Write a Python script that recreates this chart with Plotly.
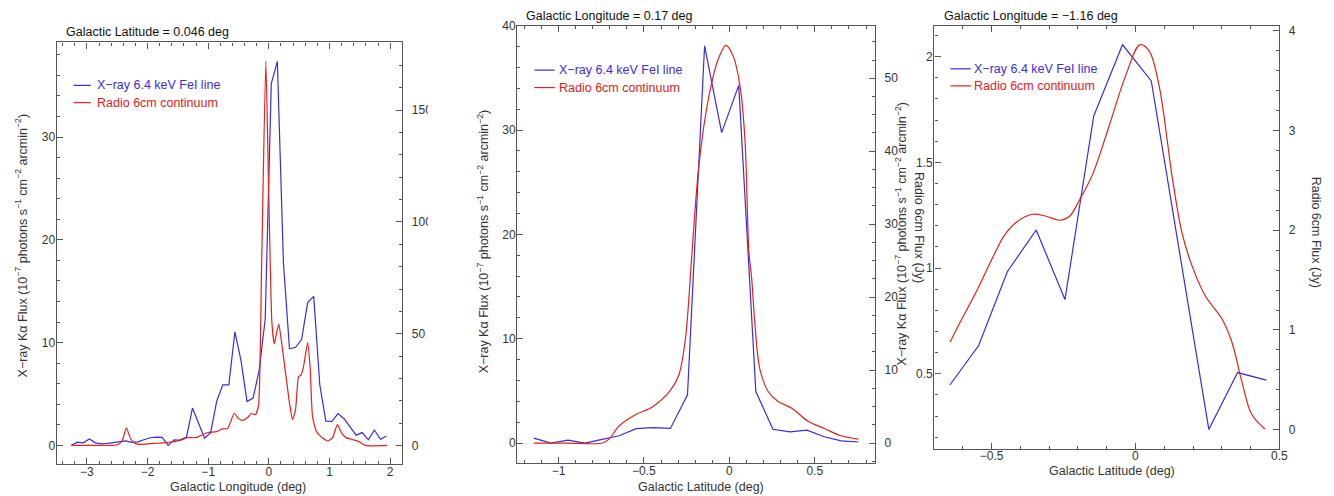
import plotly.graph_objects as go

W, H = 1334, 496

# ---------------- data ----------------
# Panel 1: cut along Galactic longitude (b = 0.046 deg)
p1_xray_l = [-3.26, -3.16, -3.06, -2.96, -2.86, -2.76, -2.66, -2.56, -2.46, -2.36,
             -2.26, -2.16, -2.06, -1.96, -1.86, -1.76, -1.66, -1.56, -1.46, -1.36,
             -1.26, -1.16, -1.06, -0.96, -0.86, -0.76, -0.66, -0.56, -0.46, -0.36,
             -0.26, -0.16, -0.06, 0.04, 0.14, 0.24, 0.34, 0.44, 0.54, 0.64,
             0.74, 0.84, 0.94, 1.04, 1.14, 1.24, 1.34, 1.44, 1.54, 1.64,
             1.74, 1.84, 1.94]
p1_xray = [0.0, 0.32, 0.25, 0.62, 0.25, 0.15, 0.2, 0.3, 0.38, 0.45,
           0.3, 0.35, 0.55, 0.75, 0.8, 0.78, 0.0, 0.55, 0.5, 0.75,
           3.64, 2.17, 0.7, 1.25, 4.3, 5.9, 5.9, 11.06, 8.28, 4.28,
           4.6, 7.3, 12.3, 35.2, 37.36, 17.8, 9.4, 9.55, 10.3, 13.9,
           14.5, 5.9, 2.37, 2.35, 3.1, 2.6, 1.8, 1.0, 1.25, 0.55,
           1.5, 0.6, 0.92]

p1_radio_l = [-3.25, -2.9, -2.6, -2.5, -2.42, -2.35, -2.28, -2.2, -2.1, -1.9,
              -1.7, -1.5, -1.38, -1.2, -1.02, -0.86, -0.77, -0.68, -0.57, -0.5,
              -0.43, -0.35, -0.29, -0.22, -0.17, -0.12, -0.05, 0.0, 0.05, 0.09,
              0.125, 0.164, 0.22, 0.28, 0.34, 0.39, 0.44, 0.49, 0.53, 0.57,
              0.64, 0.68, 0.72, 0.78, 0.85, 0.97, 1.05, 1.13, 1.2, 1.27,
              1.4, 1.5, 1.59, 1.95]
p1_radio = [0.0, 0.0, 0.0, 0.3, 2.0, 7.9, 3.0, 0.8, 0.5, 0.9,
            1.3, 2.0, 3.5, 3.5, 5.7, 6.2, 7.4, 7.6, 14.4, 12.0,
            11.2, 12.5, 14.3, 13.8, 18.0, 80.0, 172.0, 110.0, 55.0, 45.4,
            50.0, 54.3, 44.0, 31.5, 19.0, 11.6, 16.0, 30.7, 31.5, 35.0,
            46.0, 35.0, 13.0, 6.5, 4.2, 2.0, 3.5, 9.3, 5.5, 3.5,
            2.5, 1.5, 0.0, 0.0]

# Panel 2: cut along Galactic latitude (l = 0.17 deg)
p2_xray_b = [-1.145, -1.045, -0.945, -0.845, -0.745, -0.645, -0.545, -0.445, -0.345, -0.245,
             -0.145, -0.045, 0.055, 0.155, 0.255, 0.355, 0.455, 0.555, 0.655, 0.755]
p2_xray = [0.47, 0.0, 0.28, 0.0, 0.35, 0.7, 1.38, 1.47, 1.4, 4.62,
           38.08, 29.75, 34.28, 4.94, 1.32, 1.07, 1.23, 0.6, 0.2, 0.1]

p2_radio_b = [-1.145, -0.95, -0.742, -0.703, -0.645, -0.548, -0.451, -0.35, -0.296, -0.257,
              -0.219, -0.185, -0.155, -0.12, -0.07, -0.02, 0.023, 0.062, 0.091, 0.115,
              0.13, 0.149, 0.178, 0.227, 0.285, 0.363, 0.46, 0.556, 0.653, 0.756]
p2_radio = [0.0, 0.0, 0.0, 0.58, 2.34, 3.9, 4.95, 7.07, 9.3, 14.3,
            26.0, 36.5, 42.5, 47.5, 52.3, 54.5, 53.0, 49.0, 41.8, 26.0,
            22.8, 16.5, 10.2, 7.07, 5.7, 4.8, 3.0, 2.0, 1.0, 0.54]

# Panel 3: cut along Galactic latitude (l = -1.16 deg)
p3_xray_b = [-0.645, -0.545, -0.445, -0.345, -0.245, -0.145, -0.045, 0.055, 0.155, 0.255,
             0.355, 0.455]
p3_xray = [0.447, 0.634, 0.984, 1.18, 0.851, 1.719, 2.056, 1.885, 1.06, 0.237,
           0.506, 0.47]

p3_radio_b = [-0.644, -0.609, -0.552, -0.494, -0.455, -0.414, -0.358, -0.31, -0.264, -0.229,
              -0.195, -0.149, -0.091, -0.034, 0.016, 0.047, 0.082, 0.128, 0.162, 0.197,
              0.243, 0.301, 0.335, 0.37, 0.404, 0.45]
p3_radio = [0.88, 1.08, 1.39, 1.74, 1.95, 2.08, 2.16, 2.14, 2.1, 2.14,
            2.3, 2.56, 3.05, 3.55, 3.86, 3.8, 3.45, 2.53, 1.97, 1.64,
            1.34, 1.11, 0.88, 0.48, 0.155, 0.007]

panel_titles = ["Galactic Latitude = 0.046 deg",
                "Galactic Longitude = 0.17 deg",
                "Galactic Longitude = \u22121.16 deg"]
x_titles = ["Galactic Longitude (deg)", "Galactic Latitude (deg)", "Galactic Latitude (deg)"]
xray_name = "X\u2212ray 6.4 keV FeI line"
radio_name = "Radio 6cm continuum"
ytitle_left = "X\u2212ray K\u03b1 Flux (10<sup>\u22127</sup> photons s<sup>\u22121</sup> cm<sup>\u22122</sup> arcmin<sup>\u22122</sup>)"
ytitle_right = "Radio 6cm Flux (Jy)"

# ---------------- style ----------------
BLUE = "#3a2be0"
RED = "#e3201b"
AX = "#555555"
TXT = "#333333"
FONT = "Liberation Sans, Arial, sans-serif"
FS = 12.5


def px_x(v):
    return v / W


def px_y(v):
    return 1 - v / H


fig = go.Figure()

panels = [
    dict(x=p1_xray_l, y=p1_xray, xr=p1_radio_l, yr=p1_radio, xa="x", yl="y", yrr="y2", sm=0.5),
    dict(x=p2_xray_b, y=p2_xray, xr=p2_radio_b, yr=p2_radio, xa="x2", yl="y3", yrr="y4", sm=0.9),
    dict(x=p3_xray_b, y=p3_xray, xr=p3_radio_b, yr=p3_radio, xa="x3", yl="y5", yrr="y6", sm=1.0),
]

for p in panels:
    fig.add_trace(go.Scatter(x=p["x"], y=p["y"], xaxis=p["xa"], yaxis=p["yl"], mode="lines",
                             line=dict(color=BLUE, width=1.2), name=xray_name, showlegend=False))
    fig.add_trace(go.Scatter(x=p["xr"], y=p["yr"], xaxis=p["xa"], yaxis=p["yrr"], mode="lines",
                             line=dict(color=RED, width=1.2, shape="spline", smoothing=p["sm"]),
                             name=radio_name, showlegend=False))

# plot boxes in pixels: left, right, top, bottom
boxes = [(57, 405, 36, 464), (520.7, 881, 19, 462.7), (940.7, 1288, 19, 448)]
xranges = [[-3.5, 2.2], [-1.242, 0.853], [-0.699, 0.5]]
xdt = [(1, 0.2), (0.5, 0.1), (0.5, 0.1)]
ylranges = [[-1.85, 39.2], [-1.93, 40.0], [0.146, 2.146]]
yldt = [(10, 2), (10, 2), (0.5, 0.1)]
yrranges = [[-8.5, 180.3], [-2.76, 57.2], [-0.19, 4.05]]
yrdt = [(50, 10), (10, 2.5), (1, 0.2)]

common = dict(showline=True, linecolor=AX, linewidth=1.3, ticks="inside", ticklen=6,
              tickcolor=AX, tickwidth=1, showgrid=False, zeroline=False,
              tickfont=dict(family=FONT, size=12, color=TXT))

layout = {}
for i, (l, r, t, b) in enumerate(boxes):
    n = "" if i == 0 else str(i + 1)
    ylid = 2 * i + 1
    yrid = 2 * i + 2
    ylname = "yaxis" if ylid == 1 else f"yaxis{ylid}"
    yrname = f"yaxis{yrid}"
    xname = f"xaxis{n}"
    layout[xname] = dict(domain=[px_x(l), px_x(r)], range=xranges[i], anchor=f"y{'' if ylid == 1 else ylid}",
                         dtick=xdt[i][0], tick0=0, mirror="ticks", ticklabelstandoff=-4,
                         minor=dict(dtick=xdt[i][1], tick0=0, ticks="inside", ticklen=3, tickcolor=AX, showgrid=False),
                         **common)
    layout[ylname] = dict(domain=[px_y(b), px_y(t)], range=ylranges[i], anchor=f"x{n}",
                          dtick=yldt[i][0], tick0=0, side="left", ticklabelstandoff=-2,
                          minor=dict(dtick=yldt[i][1], tick0=0, ticks="inside", ticklen=3, tickcolor=AX, showgrid=False),
                          **common)
    layout[yrname] = dict(range=yrranges[i], anchor=f"x{n}", overlaying=f"y{'' if ylid == 1 else ylid}",
                          side="right", dtick=yrdt[i][0], tick0=0, ticklabelstandoff=6,
                          minor=dict(dtick=yrdt[i][1], tick0=0, ticks="inside", ticklen=3, tickcolor=AX, showgrid=False),
                          **common)

fig.update_layout(**layout)

ann = []
shapes = []

# legends: key line (x0, x1), text x, first row y, second row y
legend_pos = [(74, 91.5, 95.5, 79.5, 97), (538, 558.5, 560.5, 64, 81.7), (957, 977.5, 979, 62.7, 80)]
for (k0, k1, tx, y1, y2) in legend_pos:
    for yy, col, txt in ((y1, BLUE, xray_name), (y2, RED, radio_name)):
        shapes.append(dict(type="line", xref="paper", yref="paper", x0=px_x(k0), x1=px_x(k1),
                           y0=px_y(yy), y1=px_y(yy), line=dict(color=col, width=1.2)))
        ann.append(dict(x=px_x(tx), y=px_y(yy), xref="paper", yref="paper", xanchor="left", yanchor="middle",
                        text=txt, showarrow=False, font=dict(family=FONT, size=FS, color=col)))

title_pos = [(64, 25.5), (528, 9), (948, 9)]
for (tx, ty), txt in zip(title_pos, panel_titles):
    ann.append(dict(x=px_x(tx), y=px_y(ty), xref="paper", yref="paper", xanchor="left", yanchor="middle",
                    text=txt, showarrow=False, font=dict(family=FONT, size=FS, color="#111111")))

xt_pos = [(240, 487), (706, 487), (1119.5, 471)]
for (tx, ty), txt in zip(xt_pos, x_titles):
    ann.append(dict(x=px_x(tx), y=px_y(ty), xref="paper", yref="paper", xanchor="center", yanchor="middle",
                    text=txt, showarrow=False, font=dict(family=FONT, size=FS, color=TXT)))

yl_pos = [(21, 242), (486, 238), (907, 230)]
for tx, ty in yl_pos:
    ann.append(dict(x=px_x(tx), y=px_y(ty), xref="paper", yref="paper", xanchor="center", yanchor="middle",
                    text=ytitle_left, textangle=-90, showarrow=False,
                    font=dict(family=FONT, size=FS, color=TXT)))

yr_pos = [(925, 224), (1325, 228)]
for tx, ty in yr_pos:
    ann.append(dict(x=px_x(tx), y=px_y(ty), xref="paper", yref="paper", xanchor="center", yanchor="middle",
                    text=ytitle_right, textangle=90, showarrow=False,
                    font=dict(family=FONT, size=FS, color=TXT)))

# the first panel's right-hand tick labels are clipped in the original
shapes.append(dict(type="rect", xref="paper", yref="paper", x0=px_x(431), x1=px_x(446), y0=px_y(470), y1=px_y(30),
                   fillcolor="white", line=dict(width=0), layer="above"))

fig.update_layout(annotations=ann, shapes=shapes)

fig.update_layout(width=W, height=H, margin=dict(l=0, r=0, t=0, b=0),
                  paper_bgcolor="white", plot_bgcolor="white", showlegend=False)

fig.write_html("out.html")
